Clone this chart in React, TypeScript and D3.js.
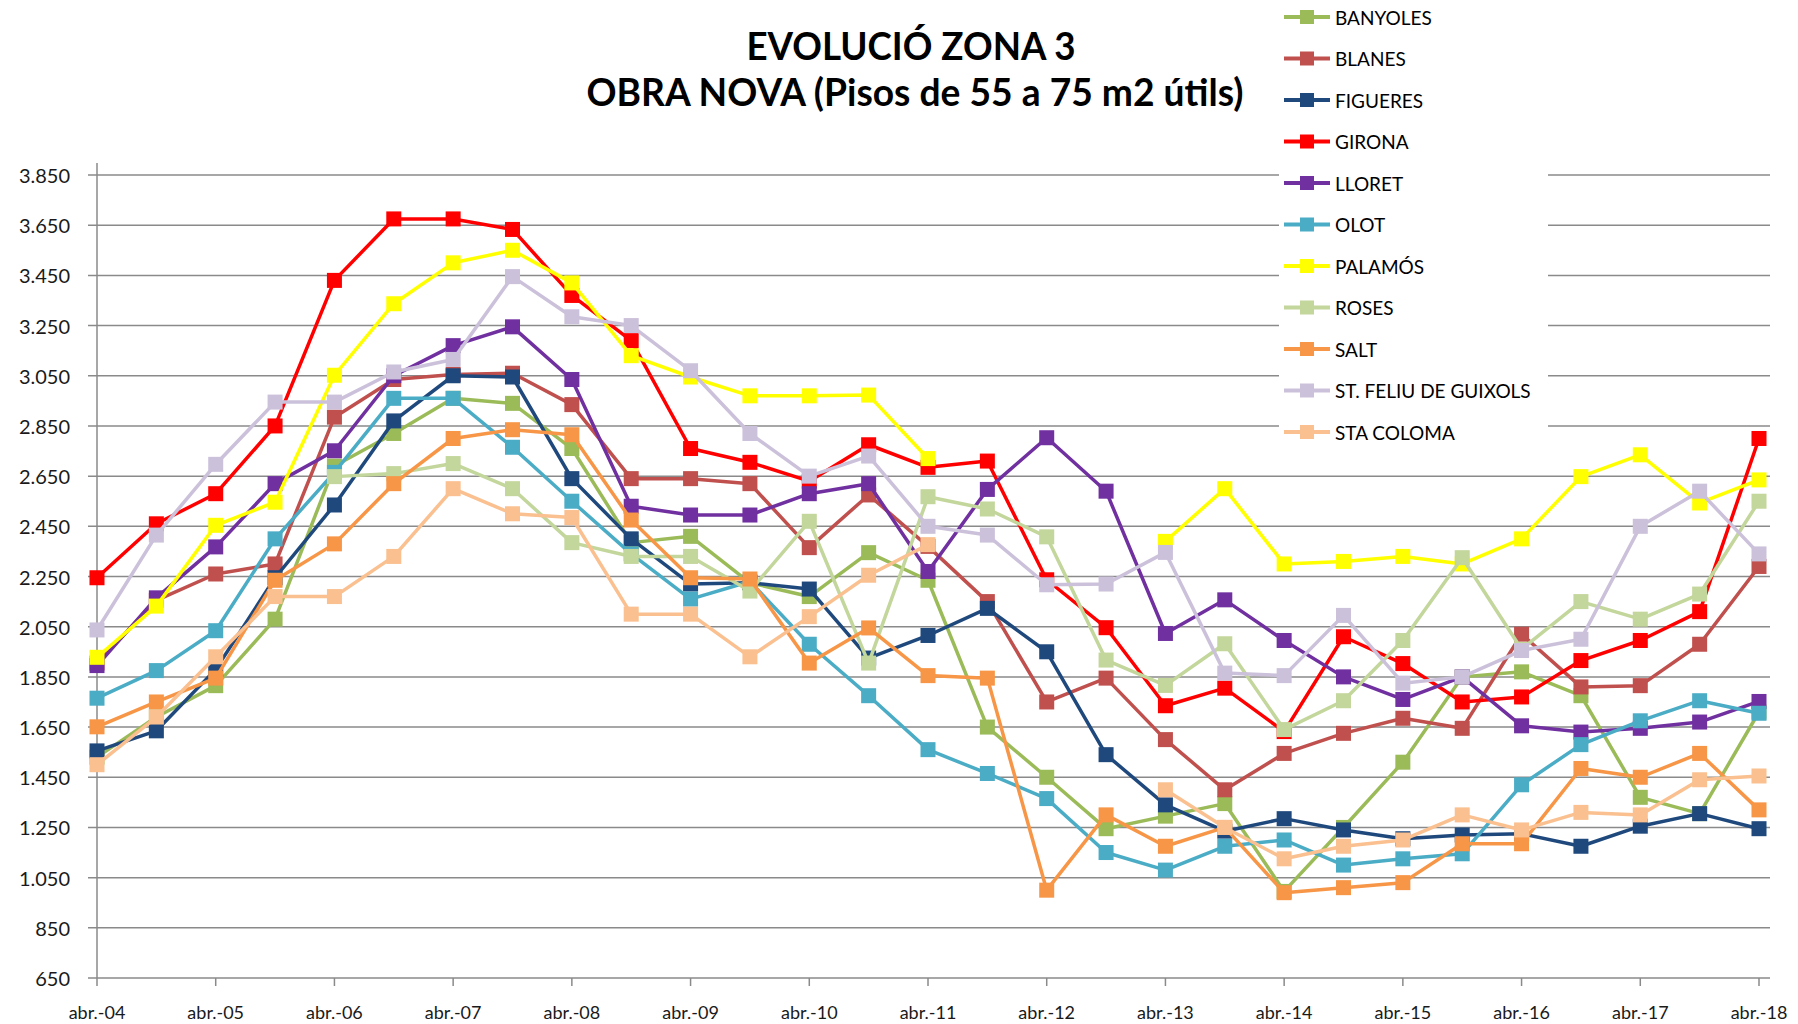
import * as d3 from "d3";

// half-yearly periods, abr.-04 .. abr.-18
const periods = [
  "abr.-04", "oct.-04", "abr.-05", "oct.-05", "abr.-06", "oct.-06", "abr.-07", "oct.-07",
  "abr.-08", "oct.-08", "abr.-09", "oct.-09", "abr.-10", "oct.-10", "abr.-11", "oct.-11",
  "abr.-12", "oct.-12", "abr.-13", "oct.-13", "abr.-14", "oct.-14", "abr.-15", "oct.-15",
  "abr.-16", "oct.-16", "abr.-17", "oct.-17", "abr.-18",
];
const xTickLabels = periods.filter((p) => p.startsWith("abr"));
const yTicks = [650, 850, 1050, 1250, 1450, 1650, 1850, 2050, 2250, 2450, 2650, 2850, 3050, 3250, 3450, 3650, 3850];

const banyoles = [1530, 1690, 1815, 2080, 2690, 2820, 2960, 2940, 2760, 2385, 2410, 2225, 2170, 2345, 2235, 1650, 1450, 1245, 1295, 1345, 995, 1250, 1510, 1850, 1870, 1775, 1370, 1305, 1710];
const blanes = [1905, 2155, 2260, 2300, 2885, 3035, 3055, 3060, 2935, 2640, 2640, 2620, 2365, 2575, 2370, 2150, 1750, 1845, 1600, 1400, 1545, 1625, 1685, 1645, 2020, 1810, 1815, 1980, 2290];
const figueres = [1555, 1635, 1880, 2245, 2535, 2870, 3050, 3045, 2640, 2400, 2220, 2225, 2200, 1925, 2015, 2123, 1950, 1540, 1340, 1235, 1285, 1240, 1205, 1220, 1225, 1175, 1255, 1305, 1245];
const girona = [2245, 2460, 2580, 2850, 3430, 3675, 3675, 3633, 3370, 3190, 2760, 2705, 2630, 2775, 2685, 2710, 2237, 2046, 1735, 1805, 1632, 2010, 1903, 1750, 1770, 1915, 1995, 2110, 2800];
const lloret = [1895, 2165, 2368, 2620, 2751, 3050, 3170, 3245, 3035, 2530, 2495, 2495, 2580, 2620, 2270, 2597, 2803, 2590, 2023, 2157, 1995, 1850, 1760, 1850, 1655, 1630, 1645, 1670, 1752];
const olot = [1765, 1875, 2034, 2400, 2665, 2960, 2960, 2765, 2550, 2340, 2160, 2230, 1980, 1775, 1560, 1465, 1365, 1150, 1080, 1175, 1200, 1100, 1125, 1145, 1420, 1580, 1675, 1755, 1705];
const palamos = [1928, 2132, 2454, 2546, 3052, 3337, 3500, 3550, 3420, 3130, 3045, 2970, 2970, 2973, 2720, null, null, null, 2390, 2600, 2300, 2310, 2330, 2300, 2400, 2648, 2735, 2543, 2635];
const roses = [null, null, null, null, 2648, 2660, 2700, 2600, 2385, 2330, 2330, 2192, 2470, 1905, 2568, 2519, 2408, 1917, 1816, 1982, 1640, 1755, 1995, 2325, 1960, 2150, 2080, 2180, 2550];
const salt = [1651, 1750, 1845, 2235, 2380, 2620, 2800, 2835, 2815, 2475, 2245, 2240, 1905, 2045, 1855, 1845, 1000, 1300, 1175, 1250, 990, 1010, 1030, 1185, 1185, 1485, 1450, 1545, 1320];
const stFeliu = [2037, 2415, 2697, 2945, 2945, 3065, 3115, 3445, 3285, 3250, 3070, 2820, 2650, 2730, 2450, 2415, 2217, 2220, 2346, 1865, 1855, 2095, 1825, 1850, 1955, 2000, 2450, 2590, 2340];
const staColoma = [1500, 1690, 1930, 2170, 2170, 2330, 2600, 2500, 2485, 2100, 2100, 1930, 2090, 2255, 2377, null, null, null, 1400, 1250, 1125, 1175, 1200, 1300, 1240, 1310, 1300, 1440, 1455];

const seriesNames = ["BANYOLES", "BLANES", "FIGUERES", "GIRONA", "LLORET", "OLOT", "PALAMÓS", "ROSES", "SALT", "ST. FELIU DE GUIXOLS", "STA COLOMA"];
const seriesColors = ["#9bbb59", "#c0504d", "#1f497d", "#ff0000", "#7030a0", "#4bacc6", "#ffff00", "#c3d69b", "#f79646", "#ccc1da", "#fac090"];
const seriesValues = [banyoles, blanes, figueres, girona, lloret, olot, palamos, roses, salt, stFeliu, staColoma];

const font = "Lato, 'Open Sans', sans-serif";
const fmt = d3.formatLocale({ decimal: ",", thousands: ".", grouping: [3], currency: ["", "€"] }).format(",d");

export default function App() {
  const left = 97;
  const right = 1759;
  const gridRight = 1770;
  const top = 175;
  const bottom = 978;
  const mk = 15;

  const x = d3.scalePoint<string>().domain(periods).range([left, right]);
  const y = d3.scaleLinear().domain([650, 3850]).range([bottom, top]);

  const line = d3
    .line<number | null>()
    .defined((d) => d != null)
    .x((_, i) => x(periods[i])!)
    .y((d) => y(d as number));

  return (
    <svg width={1798} height={1024} style={{ position: "absolute", left: 0, top: 0, background: "#fff" }}>
      <rect width={1798} height={1024} fill="#fff" />
      {/* title */}
      <g fontFamily={font} fontWeight="bold" fontSize={38} fill="#000" textAnchor="middle">
        <text x={911} y={60} textLength={329} lengthAdjust="spacingAndGlyphs">EVOLUCIÓ ZONA 3</text>
        <text x={915} y={106} textLength={657} lengthAdjust="spacingAndGlyphs">OBRA NOVA (Pisos de 55 a 75 m2 útils)</text>
      </g>

      {/* gridlines + y labels */}
      {yTicks.map((t) => (
        <g key={t}>
          <line x1={left - 9} x2={gridRight} y1={y(t)} y2={y(t)} stroke="#8a8a8a" strokeWidth={1.5} />
          <text x={70} y={y(t)} textAnchor="end" dominantBaseline="central" fontFamily={font} fontSize={20} fill="#1a1a1a">
            {fmt(t)}
          </text>
        </g>
      ))}
      <line x1={left} x2={left} y1={163} y2={bottom} stroke="#8a8a8a" strokeWidth={1.5} />
      {xTickLabels.map((p) => (
        <g key={p} transform={`translate(${x(p)},0)`}>
          <line y1={bottom} y2={bottom + 8} stroke="#8a8a8a" strokeWidth={1.5} />
          <text y={1012} textAnchor="middle" dominantBaseline="central" fontFamily={font} fontSize={18} fill="#1a1a1a">
            {p}
          </text>
        </g>
      ))}

      {/* series */}
      {seriesValues.map((vals, s) => (
        <g key={seriesNames[s]}>
          <path d={line(vals) ?? ""} fill="none" stroke={seriesColors[s]} strokeWidth={3.5} strokeLinejoin="round" />
          {vals.map((v, i) =>
            v == null ? null : (
              <rect key={i} x={x(periods[i])! - mk / 2} y={y(v) - mk / 2} width={mk} height={mk} fill={seriesColors[s]} />
            )
          )}
        </g>
      ))}

      {/* legend */}
      <rect x={1279} y={0} width={269} height={455} fill="#fff" />
      {seriesNames.map((name, i) => {
        const ly = 17 + i * 41.5;
        return (
          <g key={name}>
            <line x1={1284} x2={1330} y1={ly} y2={ly} stroke={seriesColors[i]} strokeWidth={4} />
            <rect x={1307 - 7} y={ly - 7} width={14} height={14} fill={seriesColors[i]} />
            <text x={1335} y={ly} dominantBaseline="central" fontFamily={font} fontSize={19} fill="#000">
              {name}
            </text>
          </g>
        );
      })}
    </svg>
  );
}
